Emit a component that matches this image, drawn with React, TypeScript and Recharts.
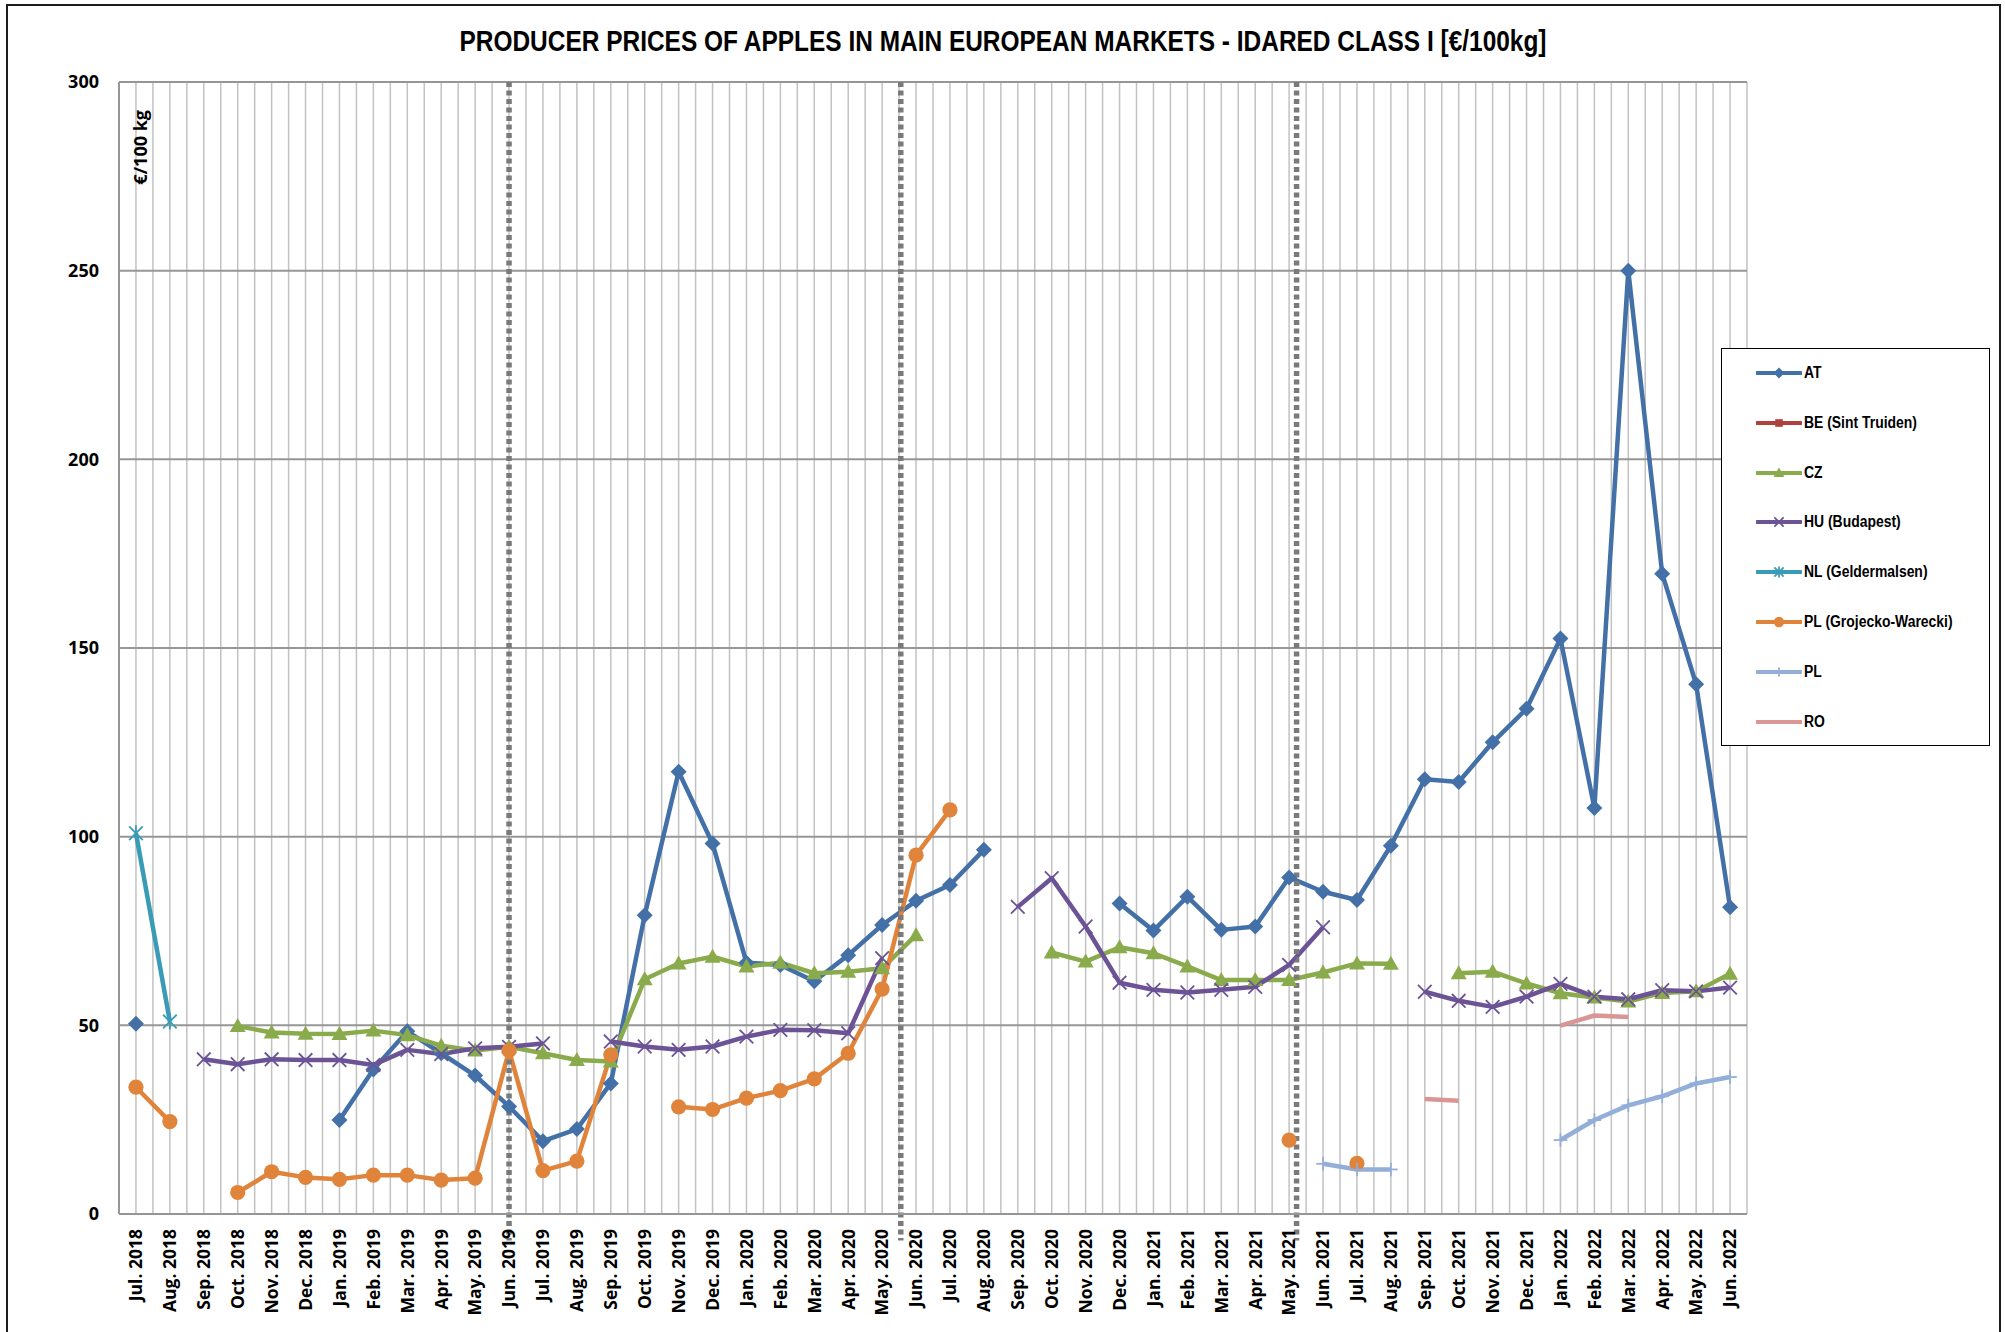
import React from 'react';
import { LineChart, Line, XAxis, YAxis, CartesianGrid, ReferenceLine } from 'recharts';

const months = [
  'Jul. 2018', 'Aug. 2018', 'Sep. 2018', 'Oct. 2018', 'Nov. 2018', 'Dec. 2018',
  'Jan. 2019', 'Feb. 2019', 'Mar. 2019', 'Apr. 2019', 'May. 2019', 'Jun. 2019',
  'Jul. 2019', 'Aug. 2019', 'Sep. 2019', 'Oct. 2019', 'Nov. 2019', 'Dec. 2019',
  'Jan. 2020', 'Feb. 2020', 'Mar. 2020', 'Apr. 2020', 'May. 2020', 'Jun. 2020',
  'Jul. 2020', 'Aug. 2020', 'Sep. 2020', 'Oct. 2020', 'Nov. 2020', 'Dec. 2020',
  'Jan. 2021', 'Feb. 2021', 'Mar. 2021', 'Apr. 2021', 'May. 2021', 'Jun. 2021',
  'Jul. 2021', 'Aug. 2021', 'Sep. 2021', 'Oct. 2021', 'Nov. 2021', 'Dec. 2021',
  'Jan. 2022', 'Feb. 2022', 'Mar. 2022', 'Apr. 2022', 'May. 2022', 'Jun. 2022',
];

const yTicks = [0, 50, 100, 150, 200, 250, 300];

const _ = null;

const AT = [
  50.4, _, _, _, _, _,
  24.9, 38.3, 48.4, 42.6, 36.7, 28.5,
  19.3, 22.5, 34.6, 79.2, 117.2, 98.2,
  66.6, 66.0, 61.7, 68.6, 76.6, 83.0,
  87.2, 96.5, _, _, _, 82.3,
  75.1, 84.1, 75.3, 76.2, 89.2, 85.4,
  83.2, 97.6, 115.2, 114.5, 125.0, 133.9,
  152.5, 107.6, 250.0, 169.7, 140.4, 81.3,
];

const BE = [
  _, _, _, _, _, _, _, _, _, _, _, _,
  _, _, _, _, _, _, _, _, _, _, _, _,
  _, _, _, _, _, _, _, _, _, _, _, _,
  _, _, _, _, _, _, _, _, _, _, _, _,
];

const CZ = [
  _, _, _, 49.8, 48.1, 47.8,
  47.7, 48.6, 47.4, 44.6, 43.3, 44.3,
  42.6, 40.8, 40.4, 62.2, 66.4, 68.2,
  65.6, 66.6, 63.8, 64.2, 65.1, 73.9,
  _, _, _, 69.3, 66.9, 70.7,
  69.1, 65.6, 62.0, 62.0, 62.0, 64.0,
  66.4, 66.3, _, 63.8, 64.2, 61.1,
  58.5, 57.4, 56.3, 58.6, 59.0, 63.7,
];

const HU = [
  _, _, 41.0, 39.7, 41.0, 40.8,
  40.8, 39.5, 43.5, 42.4, 43.9, 44.3,
  45.2, _, 45.7, 44.4, 43.5, 44.4,
  47.0, 48.8, 48.7, 47.9, 67.8, _,
  _, _, 81.4, 89.0, 76.2, 61.3,
  59.4, 58.7, 59.4, 60.2, 66.0, 76.0,
  _, _, 58.9, 56.5, 54.9, 57.6,
  61.0, 57.6, 56.9, 59.3, 59.0, 60.0,
];

const NL = [
  100.9, 51.0, _, _, _, _, _, _, _, _, _, _,
  _, _, _, _, _, _, _, _, _, _, _, _,
  _, _, _, _, _, _, _, _, _, _, _, _,
  _, _, _, _, _, _, _, _, _, _, _, _,
];

const PLG = [
  33.6, 24.5, _, 5.7, 11.2, 9.7,
  9.2, 10.3, 10.3, 9.0, 9.5, 43.3,
  11.5, 14.0, 42.2, _, 28.4, 27.7,
  30.7, 32.7, 35.8, 42.6, 59.6, 95.1,
  107.1, _, _, _, _, _,
  _, _, _, _, 19.6, _,
  13.4, _, _, _, _, _,
  _, _, _, _, _, _,
];

const PL = [
  _, _, _, _, _, _, _, _, _, _, _, _,
  _, _, _, _, _, _, _, _, _, _, _, _,
  _, _, _, _, _, _, _, _, _, _, _, 13.3,
  11.8, 11.8, _, _, _, _, 19.6, 24.9, 28.8, 31.2, 34.6, 36.3,
];

const RO = [
  _, _, _, _, _, _, _, _, _, _, _, _,
  _, _, _, _, _, _, _, _, _, _, _, _,
  _, _, _, _, _, _, _, _, _, _, _, _,
  _, _, 30.5, 30.0, _, _, 49.9, 52.6, 52.2, _, _, _,
];

// season separators, in category units
const seasonBreaks = [11, 22.55, 34.22];

const SERIES = [
  { key: 'AT', name: 'AT', color: '#4470a8', marker: 'diamond', values: AT },
  { key: 'BE', name: 'BE (Sint Truiden)', color: '#b0403e', marker: 'square', values: BE },
  { key: 'CZ', name: 'CZ', color: '#8aab4b', marker: 'triangle', values: CZ },
  { key: 'HU', name: 'HU (Budapest)', color: '#6b5396', marker: 'x', values: HU },
  { key: 'NL', name: 'NL (Geldermalsen)', color: '#3a9bb6', marker: 'star', values: NL },
  { key: 'PLG', name: 'PL (Grojecko-Warecki)', color: '#e0843b', marker: 'circle', values: PLG },
  { key: 'PL', name: 'PL', color: '#93aed8', marker: 'plus', values: PL },
  { key: 'RO', name: 'RO', color: '#d99695', marker: 'none', values: RO },
];

const rows = months.map((m, i) => {
  const r: any = { idx: i, month: m };
  SERIES.forEach((s) => { r[s.key] = s.values[i]; });
  return r;
});

const gridTicks = Array.from({ length: months.length * 2 + 1 }, (_v, k) => k / 2 - 0.5);

function Marker({ type, cx, cy, color, s = 1 }: any) {
  if (cx == null || cy == null || isNaN(cx) || isNaN(cy)) return <g />;
  const d = 8 * s;
  switch (type) {
    case 'diamond':
      return <polygon points={`${cx},${cy - d} ${cx + d},${cy} ${cx},${cy + d} ${cx - d},${cy}`} fill={color} />;
    case 'square':
      return <rect x={cx - d * 0.7} y={cy - d * 0.7} width={d * 1.4} height={d * 1.4} fill={color} />;
    case 'triangle':
      return <polygon points={`${cx},${cy - d} ${cx + d},${cy + d * 0.75} ${cx - d},${cy + d * 0.75}`} fill={color} />;
    case 'circle':
      return <circle cx={cx} cy={cy} r={d * 0.95} fill={color} />;
    case 'x':
      return (
        <g stroke={color} strokeWidth={1.8}>
          <line x1={cx - d * 0.85} y1={cy - d * 0.85} x2={cx + d * 0.85} y2={cy + d * 0.85} />
          <line x1={cx - d * 0.85} y1={cy + d * 0.85} x2={cx + d * 0.85} y2={cy - d * 0.85} />
        </g>
      );
    case 'star':
      return (
        <g stroke={color} strokeWidth={1.8}>
          <line x1={cx - d * 0.85} y1={cy - d * 0.85} x2={cx + d * 0.85} y2={cy + d * 0.85} />
          <line x1={cx - d * 0.85} y1={cy + d * 0.85} x2={cx + d * 0.85} y2={cy - d * 0.85} />
          <line x1={cx} y1={cy - d} x2={cx} y2={cy + d} />
        </g>
      );
    case 'plus':
      return (
        <g stroke={color} strokeWidth={1.8}>
          <line x1={cx} y1={cy - d * 0.85} x2={cx} y2={cy + d * 0.85} />
          <line x1={cx - d * 0.85} y1={cy} x2={cx + d * 0.85} y2={cy} />
        </g>
      );
    default:
      return <g />;
  }
}

const XTick = (props: any) => {
  const { x, y, payload } = props;
  const v = payload?.value;
  if (!Number.isInteger(v) || !months[v]) return <g />;
  const ty = y + 15;
  return (
    <text
      x={x}
      y={ty}
      transform={`rotate(-90, ${x}, ${ty})`}
      textAnchor="end"
      dy="0.36em"
      fontFamily="'Open Sans', 'Liberation Sans', sans-serif"
      fontWeight={700}
      fontSize={17.5}
      fill="#000"
    >
      {months[v]}
    </text>
  );
};

const YTick = (props: any) => {
  const { x, y, payload } = props;
  return (
    <text
      x={x}
      y={y}
      textAnchor="end"
      dy="0.36em"
      fontFamily="'Open Sans', 'Liberation Sans', sans-serif"
      fontWeight={700}
      fontSize={18}
      fill="#000"
    >
      {payload.value}
    </text>
  );
};

const SeparatorShape = (props: any) => {
  const { x1, y1, x2, y2 } = props;
  if ([x1, y1, x2, y2].some((v) => v == null || isNaN(v))) return <g />;
  return (
    <line
      x1={x1}
      y1={y1}
      x2={x2}
      y2={y2}
      stroke="#7a7a7a"
      strokeWidth={5.5}
      strokeDasharray="5 3.5"
      fill="none"
    />
  );
};

const narrow = "'Liberation Sans Narrow', 'Arial Narrow', 'Liberation Sans', Arial, sans-serif";

function LegendBox() {
  return (
    <div
      style={{
        position: 'absolute',
        left: 1721,
        top: 348,
        width: 269,
        height: 398,
        border: '1.5px solid #000',
        background: '#fff',
        boxSizing: 'border-box',
      }}
    >
      {SERIES.map((s, i) => (
        <div
          key={s.key}
          style={{
            position: 'absolute',
            left: 34,
            top: 24 + i * 49.8 - 11,
            height: 22,
            display: 'flex',
            alignItems: 'center',
          }}
        >
          <svg width={46} height={22} style={{ display: 'block' }}>
            <line x1={1} y1={11} x2={45} y2={11} stroke={s.color} strokeWidth={4} strokeLinecap="round" />
            <Marker type={s.marker} cx={23} cy={11} color={s.color} s={0.68} />
          </svg>
          <span
            style={{
              fontFamily: narrow,
              fontWeight: 700,
              fontSize: 16,
              color: '#000',
              marginLeft: 2,
              whiteSpace: 'nowrap',
              display: 'inline-block',
              transform: 'scaleX(0.87)',
              transformOrigin: 'left center',
            }}
          >
            {s.name}
          </span>
        </div>
      ))}
    </div>
  );
}

export default function App() {
  return (
    <div style={{ position: 'absolute', left: 0, top: 0, width: 2005, height: 1332, background: '#fff', overflow: 'hidden' }}>
      <div
        style={{
          position: 'absolute',
          left: 6,
          top: 4,
          width: 1995,
          height: 1400,
          border: '2px solid #1c1c1c',
          boxSizing: 'border-box',
        }}
      />
      <div style={{ position: 'absolute', left: 0, top: 0 }}>
        <LineChart
          width={2005}
          height={1332}
          data={rows}
          margin={{ top: 82, right: 258, bottom: 8, left: 59 }}
        >
          <CartesianGrid horizontal={false} vertical={true} stroke="#c2c2c2" strokeWidth={1.5} />
          <CartesianGrid horizontal={true} vertical={false} stroke="#969696" strokeWidth={2} />
          <XAxis
            type="number"
            dataKey="idx"
            domain={[-0.5, months.length - 0.5]}
            ticks={gridTicks}
            interval={0}
            allowDecimals
            tickLine={false}
            tickSize={0}
            tickMargin={0}
            axisLine={{ stroke: '#969696', strokeWidth: 2 }}
            height={110}
            tick={<XTick />}
          />
          <YAxis
            type="number"
            domain={[0, 300]}
            ticks={yTicks}
            interval={0}
            tickLine={false}
            tickSize={0}
            tickMargin={20}
            axisLine={{ stroke: '#969696', strokeWidth: 2 }}
            width={60}
            tick={<YTick />}
          />
          {SERIES.map((s) => (
            <Line
              key={s.key}
              type="linear"
              dataKey={s.key}
              name={s.name}
              stroke={s.color}
              strokeWidth={4.5}
              strokeLinejoin="round"
              connectNulls={false}
              isAnimationActive={false}
              activeDot={false}
              dot={(p: any) => (
                <Marker key={`${s.key}-${p.index}`} type={s.marker} cx={p.cx} cy={p.cy} color={s.color} />
              )}
            />
          ))}
          {seasonBreaks.map((b) => (
            <ReferenceLine
              key={`brk-${b}`}
              segment={[{ x: b, y: 300 }, { x: b, y: -7 }]}
              ifOverflow="visible"
              stroke="#7a7a7a"
              strokeWidth={5.5}
              strokeDasharray="5 3.5"
              shape={<SeparatorShape />}
            />
          ))}
        </LineChart>
      </div>
      <svg
        width={2005}
        height={1332}
        style={{ position: 'absolute', left: 0, top: 0, pointerEvents: 'none' }}
      >
        <text
          x={1003}
          y={51}
          textAnchor="middle"
          fontFamily={narrow}
          fontWeight={700}
          fontSize={29}
          fill="#000"
          textLength={1087}
          lengthAdjust="spacingAndGlyphs"
        >
          PRODUCER PRICES OF APPLES IN MAIN EUROPEAN MARKETS - IDARED CLASS I [€/100kg]
        </text>
        <text
          x={141}
          y={110}
          transform="rotate(-90, 141, 110)"
          textAnchor="end"
          dy="0.36em"
          fontFamily="'Open Sans', 'Liberation Sans', sans-serif"
          fontWeight={700}
          fontSize={18}
          fill="#000"
        >
          €/100 kg
        </text>
      </svg>
      <LegendBox />
    </div>
  );
}
